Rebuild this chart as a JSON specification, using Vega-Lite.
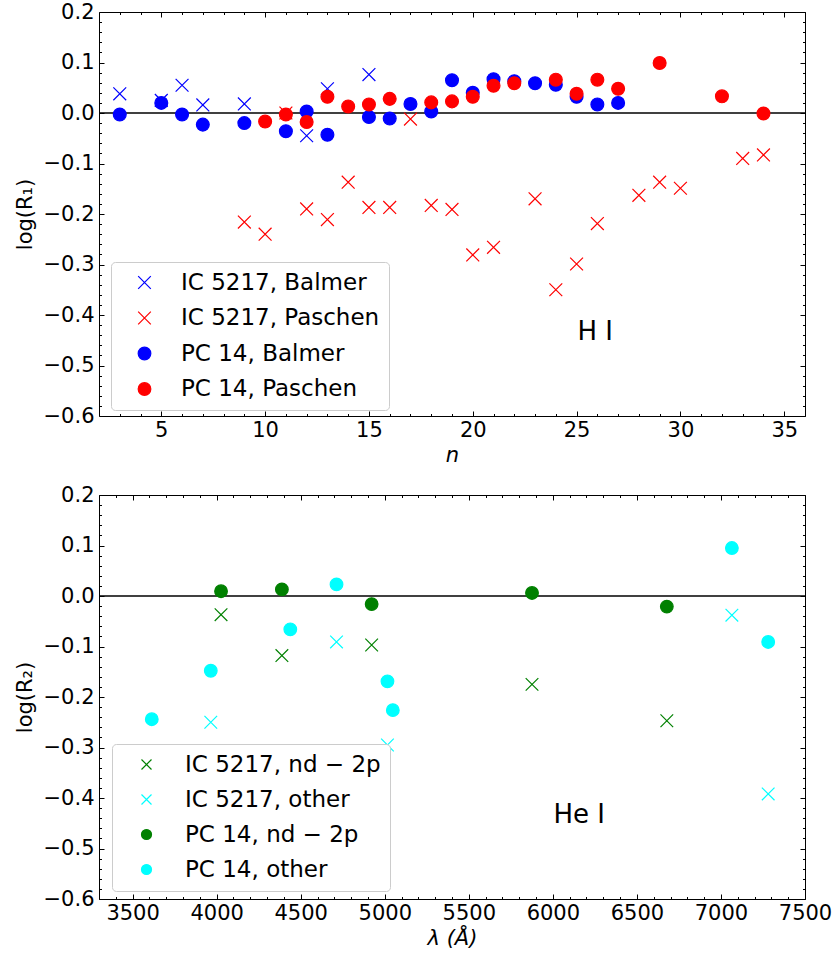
{
  "$schema": "https://vega.github.io/schema/vega-lite/v6.json",
  "padding": {"left": 13, "top": 0, "right": 5, "bottom": 5},
  "spacing": 17,
  "background": "white",
  "resolve": {
    "scale": {"shape": "independent", "stroke": "independent", "fill": "independent"},
    "legend": {"shape": "independent", "stroke": "independent", "fill": "independent"}
  },
  "config": {
    "font": "DejaVu Sans",
    "view": {"stroke": "#000000", "strokeWidth": 1},
    "axis": {
      "labelFont": "DejaVu Sans", "labelFontSize": 21, "labelColor": "#000000", "labelFlush": false,
      "titleFont": "DejaVu Sans", "titleFontSize": 21, "titleColor": "#000000", "titleFontWeight": "normal",
      "tickColor": "#000000", "tickWidth": 1, "domain": false, "grid": false
    },
    "legend": {
      "labelFont": "DejaVu Sans", "labelFontSize": 23, "labelColor": "#000000", "labelLimit": 400
    }
  },
  "datasets": {
    "h": [
      {"n": 3, "v": 0.038, "s": "IC 5217, Balmer"},
      {"n": 5, "v": 0.025, "s": "IC 5217, Balmer"},
      {"n": 6, "v": 0.055, "s": "IC 5217, Balmer"},
      {"n": 7, "v": 0.016, "s": "IC 5217, Balmer"},
      {"n": 9, "v": 0.018, "s": "IC 5217, Balmer"},
      {"n": 12, "v": -0.045, "s": "IC 5217, Balmer"},
      {"n": 13, "v": 0.048, "s": "IC 5217, Balmer"},
      {"n": 15, "v": 0.076, "s": "IC 5217, Balmer"},
      {"n": 9, "v": -0.216, "s": "IC 5217, Paschen"},
      {"n": 10, "v": -0.24, "s": "IC 5217, Paschen"},
      {"n": 11, "v": 0.0, "s": "IC 5217, Paschen"},
      {"n": 12, "v": -0.19, "s": "IC 5217, Paschen"},
      {"n": 13, "v": -0.211, "s": "IC 5217, Paschen"},
      {"n": 14, "v": -0.137, "s": "IC 5217, Paschen"},
      {"n": 15, "v": -0.187, "s": "IC 5217, Paschen"},
      {"n": 16, "v": -0.187, "s": "IC 5217, Paschen"},
      {"n": 17, "v": -0.012, "s": "IC 5217, Paschen"},
      {"n": 18, "v": -0.183, "s": "IC 5217, Paschen"},
      {"n": 19, "v": -0.191, "s": "IC 5217, Paschen"},
      {"n": 20, "v": -0.281, "s": "IC 5217, Paschen"},
      {"n": 21, "v": -0.266, "s": "IC 5217, Paschen"},
      {"n": 23, "v": -0.17, "s": "IC 5217, Paschen"},
      {"n": 24, "v": -0.35, "s": "IC 5217, Paschen"},
      {"n": 25, "v": -0.299, "s": "IC 5217, Paschen"},
      {"n": 26, "v": -0.219, "s": "IC 5217, Paschen"},
      {"n": 28, "v": -0.163, "s": "IC 5217, Paschen"},
      {"n": 29, "v": -0.137, "s": "IC 5217, Paschen"},
      {"n": 30, "v": -0.149, "s": "IC 5217, Paschen"},
      {"n": 33, "v": -0.09, "s": "IC 5217, Paschen"},
      {"n": 34, "v": -0.083, "s": "IC 5217, Paschen"},
      {"n": 3, "v": -0.003, "s": "PC 14, Balmer"},
      {"n": 5, "v": 0.02, "s": "PC 14, Balmer"},
      {"n": 6, "v": -0.003, "s": "PC 14, Balmer"},
      {"n": 7, "v": -0.023, "s": "PC 14, Balmer"},
      {"n": 9, "v": -0.02, "s": "PC 14, Balmer"},
      {"n": 11, "v": -0.036, "s": "PC 14, Balmer"},
      {"n": 12, "v": 0.003, "s": "PC 14, Balmer"},
      {"n": 13, "v": -0.043, "s": "PC 14, Balmer"},
      {"n": 15, "v": -0.008, "s": "PC 14, Balmer"},
      {"n": 16, "v": -0.011, "s": "PC 14, Balmer"},
      {"n": 17, "v": 0.018, "s": "PC 14, Balmer"},
      {"n": 18, "v": 0.003, "s": "PC 14, Balmer"},
      {"n": 19, "v": 0.065, "s": "PC 14, Balmer"},
      {"n": 20, "v": 0.04, "s": "PC 14, Balmer"},
      {"n": 21, "v": 0.067, "s": "PC 14, Balmer"},
      {"n": 22, "v": 0.063, "s": "PC 14, Balmer"},
      {"n": 23, "v": 0.059, "s": "PC 14, Balmer"},
      {"n": 24, "v": 0.056, "s": "PC 14, Balmer"},
      {"n": 25, "v": 0.032, "s": "PC 14, Balmer"},
      {"n": 26, "v": 0.017, "s": "PC 14, Balmer"},
      {"n": 27, "v": 0.02, "s": "PC 14, Balmer"},
      {"n": 10, "v": -0.017, "s": "PC 14, Paschen"},
      {"n": 11, "v": -0.003, "s": "PC 14, Paschen"},
      {"n": 12, "v": -0.018, "s": "PC 14, Paschen"},
      {"n": 13, "v": 0.032, "s": "PC 14, Paschen"},
      {"n": 14, "v": 0.013, "s": "PC 14, Paschen"},
      {"n": 15, "v": 0.017, "s": "PC 14, Paschen"},
      {"n": 16, "v": 0.028, "s": "PC 14, Paschen"},
      {"n": 18, "v": 0.021, "s": "PC 14, Paschen"},
      {"n": 19, "v": 0.023, "s": "PC 14, Paschen"},
      {"n": 20, "v": 0.032, "s": "PC 14, Paschen"},
      {"n": 21, "v": 0.054, "s": "PC 14, Paschen"},
      {"n": 22, "v": 0.059, "s": "PC 14, Paschen"},
      {"n": 24, "v": 0.066, "s": "PC 14, Paschen"},
      {"n": 25, "v": 0.038, "s": "PC 14, Paschen"},
      {"n": 26, "v": 0.066, "s": "PC 14, Paschen"},
      {"n": 27, "v": 0.048, "s": "PC 14, Paschen"},
      {"n": 29, "v": 0.099, "s": "PC 14, Paschen"},
      {"n": 32, "v": 0.033, "s": "PC 14, Paschen"},
      {"n": 34, "v": -0.001, "s": "PC 14, Paschen"}
    ],
    "he": [
      {"lam": 4026, "v": -0.037, "s": "IC 5217, nd − 2p"},
      {"lam": 4388, "v": -0.118, "s": "IC 5217, nd − 2p"},
      {"lam": 4922, "v": -0.097, "s": "IC 5217, nd − 2p"},
      {"lam": 5876, "v": -0.175, "s": "IC 5217, nd − 2p"},
      {"lam": 6678, "v": -0.247, "s": "IC 5217, nd − 2p"},
      {"lam": 3965, "v": -0.25, "s": "IC 5217, other"},
      {"lam": 4713, "v": -0.091, "s": "IC 5217, other"},
      {"lam": 5016, "v": -0.295, "s": "IC 5217, other"},
      {"lam": 7065, "v": -0.038, "s": "IC 5217, other"},
      {"lam": 7281, "v": -0.392, "s": "IC 5217, other"},
      {"lam": 4026, "v": 0.0095, "s": "PC 14, nd − 2p"},
      {"lam": 4388, "v": 0.013, "s": "PC 14, nd − 2p"},
      {"lam": 4922, "v": -0.016, "s": "PC 14, nd − 2p"},
      {"lam": 5876, "v": 0.006, "s": "PC 14, nd − 2p"},
      {"lam": 6678, "v": -0.021, "s": "PC 14, nd − 2p"},
      {"lam": 3614, "v": -0.244, "s": "PC 14, other"},
      {"lam": 3965, "v": -0.148, "s": "PC 14, other"},
      {"lam": 4438, "v": -0.066, "s": "PC 14, other"},
      {"lam": 4713, "v": 0.023, "s": "PC 14, other"},
      {"lam": 5016, "v": -0.169, "s": "PC 14, other"},
      {"lam": 5048, "v": -0.226, "s": "PC 14, other"},
      {"lam": 7065, "v": 0.095, "s": "PC 14, other"},
      {"lam": 7281, "v": -0.091, "s": "PC 14, other"}
    ]
  },
  "vconcat": [
    {
      "width": 706, "height": 404,
      "data": {"name": "h"},
      "resolve": {"axis": {"x": "independent", "y": "independent"}},
      "layer": [
        {
          "data": {"values": [{"z": 0}]},
          "mark": {"type": "rule", "color": "#000000", "strokeWidth": 1.5},
          "encoding": {"y": {"field": "z", "type": "quantitative", "scale": {"domain": [-0.6, 0.2], "nice": false, "zero": false}, "axis": null}}
        },
        {
          "mark": {"type": "point", "opacity": 0},
          "encoding": {
            "x": {"field": "n", "type": "quantitative", "scale": {"domain": [2, 36], "nice": false, "zero": false},
                  "axis": {"orient": "top", "values": [5,10,15,20,25,30,35], "labels": false, "tickSize": -5, "title": null}},
            "y": {"field": "v", "type": "quantitative", "scale": {"domain": [-0.6, 0.2], "nice": false, "zero": false},
                  "axis": {"orient": "right", "values": [-0.6,-0.5,-0.4,-0.3,-0.2,-0.1,0,0.1,0.2], "labels": false, "tickSize": -5, "title": null}}
          }
        },
        {
          "mark": {"type": "point", "opacity": 0},
          "encoding": {
            "x": {"field": "n", "type": "quantitative", "scale": {"domain": [2, 36], "nice": false, "zero": false},
                  "axis": {"orient": "bottom", "values": [3,4,6,7,8,9,11,12,13,14,16,17,18,19,21,22,23,24,26,27,28,29,31,32,33,34,36], "labels": false, "tickSize": -2.5, "title": null}},
            "y": {"field": "v", "type": "quantitative", "scale": {"domain": [-0.6, 0.2], "nice": false, "zero": false},
                  "axis": {"orient": "left", "values": [-0.58,-0.56,-0.54,-0.52,-0.48,-0.46,-0.44,-0.42,-0.38,-0.36,-0.34,-0.32,-0.28,-0.26,-0.24,-0.22,-0.18,-0.16,-0.14,-0.12,-0.08,-0.06,-0.04,-0.02,0.02,0.04,0.06,0.08,0.12,0.14,0.16,0.18], "labels": false, "tickSize": -2.5, "title": null}}
          }
        },
        {
          "mark": {"type": "point", "opacity": 0},
          "encoding": {
            "x": {"field": "n", "type": "quantitative", "scale": {"domain": [2, 36], "nice": false, "zero": false},
                  "axis": {"orient": "top", "values": [3,4,6,7,8,9,11,12,13,14,16,17,18,19,21,22,23,24,26,27,28,29,31,32,33,34,36], "labels": false, "tickSize": -2.5, "title": null}},
            "y": {"field": "v", "type": "quantitative", "scale": {"domain": [-0.6, 0.2], "nice": false, "zero": false},
                  "axis": {"orient": "right", "values": [-0.58,-0.56,-0.54,-0.52,-0.48,-0.46,-0.44,-0.42,-0.38,-0.36,-0.34,-0.32,-0.28,-0.26,-0.24,-0.22,-0.18,-0.16,-0.14,-0.12,-0.08,-0.06,-0.04,-0.02,0.02,0.04,0.06,0.08,0.12,0.14,0.16,0.18], "labels": false, "tickSize": -2.5, "title": null}}
          }
        },
        {
          "mark": {"type": "point", "opacity": 1, "strokeWidth": 1.2, "size": 165},
          "encoding": {
            "x": {"field": "n", "type": "quantitative", "scale": {"domain": [2, 36], "nice": false, "zero": false},
                  "axis": {"orient": "bottom", "values": [5,10,15,20,25,30,35], "format": "d", "tickSize": -5, "labelPadding": 8, "title": "n", "titleFontStyle": "italic", "titlePadding": 4}},
            "y": {"field": "v", "type": "quantitative", "scale": {"domain": [-0.6, 0.2], "nice": false, "zero": false},
                  "axis": {"orient": "left", "values": [-0.6,-0.5,-0.4,-0.3,-0.2,-0.1,0,0.1,0.2], "format": ".1f", "tickSize": -5, "labelPadding": 10, "title": "log(R₁)", "titlePadding": 8}},
            "shape": {"field": "s", "type": "nominal",
                      "scale": {"domain": ["IC 5217, Balmer", "IC 5217, Paschen", "PC 14, Balmer", "PC 14, Paschen"],
                                "range": ["M-1,-1L1,1M-1,1L1,-1", "M-1,-1L1,1M-1,1L1,-1", "circle", "circle"]},
                      "legend": {"orient": "none", "legendX": 12, "legendY": 250, "title": null, "padding": 9, "rowPadding": 11.5,
                                 "labelOffset": 25, "symbolOffset": 13, "strokeColor": "#cccccc", "cornerRadius": 4,
                                 "fillColor": "white", "symbolSize": 160, "symbolStrokeWidth": 1.2}},
            "stroke": {"field": "s", "type": "nominal",
                       "scale": {"domain": ["IC 5217, Balmer", "IC 5217, Paschen", "PC 14, Balmer", "PC 14, Paschen"],
                                 "range": ["#0000ff", "#ff0000", "#0000ff", "#ff0000"]}},
            "fill": {"field": "s", "type": "nominal",
                     "scale": {"domain": ["IC 5217, Balmer", "IC 5217, Paschen", "PC 14, Balmer", "PC 14, Paschen"],
                               "range": ["transparent", "transparent", "#0000ff", "#ff0000"]}}
          }
        },
        {
          "data": {"values": [{"n": 25.9, "v": -0.434, "t": "H I"}]},
          "mark": {"type": "text", "fontSize": 26, "font": "DejaVu Sans", "color": "#000000", "align": "center", "baseline": "middle"},
          "encoding": {
            "x": {"field": "n", "type": "quantitative", "scale": {"domain": [2, 36], "nice": false, "zero": false}, "axis": null},
            "y": {"field": "v", "type": "quantitative", "scale": {"domain": [-0.6, 0.2], "nice": false, "zero": false}, "axis": null},
            "text": {"field": "t"}
          }
        }
      ]
    },
    {
      "width": 706, "height": 404,
      "data": {"name": "he"},
      "resolve": {"axis": {"x": "independent", "y": "independent"}},
      "layer": [
        {
          "data": {"values": [{"z": 0}]},
          "mark": {"type": "rule", "color": "#000000", "strokeWidth": 1.5},
          "encoding": {"y": {"field": "z", "type": "quantitative", "scale": {"domain": [-0.6, 0.2], "nice": false, "zero": false}, "axis": null}}
        },
        {
          "mark": {"type": "point", "opacity": 0},
          "encoding": {
            "x": {"field": "lam", "type": "quantitative", "scale": {"domain": [3300, 7500], "nice": false, "zero": false},
                  "axis": {"orient": "top", "values": [3500,4000,4500,5000,5500,6000,6500,7000,7500], "labels": false, "tickSize": -5, "title": null}},
            "y": {"field": "v", "type": "quantitative", "scale": {"domain": [-0.6, 0.2], "nice": false, "zero": false},
                  "axis": {"orient": "right", "values": [-0.6,-0.5,-0.4,-0.3,-0.2,-0.1,0,0.1,0.2], "labels": false, "tickSize": -5, "title": null}}
          }
        },
        {
          "mark": {"type": "point", "opacity": 0},
          "encoding": {
            "x": {"field": "lam", "type": "quantitative", "scale": {"domain": [3300, 7500], "nice": false, "zero": false},
                  "axis": {"orient": "bottom", "values": [3300,3400,3600,3700,3800,3900,4100,4200,4300,4400,4600,4700,4800,4900,5100,5200,5300,5400,5600,5700,5800,5900,6100,6200,6300,6400,6600,6700,6800,6900,7100,7200,7300,7400], "labels": false, "tickSize": -2.5, "title": null}},
            "y": {"field": "v", "type": "quantitative", "scale": {"domain": [-0.6, 0.2], "nice": false, "zero": false},
                  "axis": {"orient": "left", "values": [-0.58,-0.56,-0.54,-0.52,-0.48,-0.46,-0.44,-0.42,-0.38,-0.36,-0.34,-0.32,-0.28,-0.26,-0.24,-0.22,-0.18,-0.16,-0.14,-0.12,-0.08,-0.06,-0.04,-0.02,0.02,0.04,0.06,0.08,0.12,0.14,0.16,0.18], "labels": false, "tickSize": -2.5, "title": null}}
          }
        },
        {
          "mark": {"type": "point", "opacity": 0},
          "encoding": {
            "x": {"field": "lam", "type": "quantitative", "scale": {"domain": [3300, 7500], "nice": false, "zero": false},
                  "axis": {"orient": "top", "values": [3300,3400,3600,3700,3800,3900,4100,4200,4300,4400,4600,4700,4800,4900,5100,5200,5300,5400,5600,5700,5800,5900,6100,6200,6300,6400,6600,6700,6800,6900,7100,7200,7300,7400], "labels": false, "tickSize": -2.5, "title": null}},
            "y": {"field": "v", "type": "quantitative", "scale": {"domain": [-0.6, 0.2], "nice": false, "zero": false},
                  "axis": {"orient": "right", "values": [-0.58,-0.56,-0.54,-0.52,-0.48,-0.46,-0.44,-0.42,-0.38,-0.36,-0.34,-0.32,-0.28,-0.26,-0.24,-0.22,-0.18,-0.16,-0.14,-0.12,-0.08,-0.06,-0.04,-0.02,0.02,0.04,0.06,0.08,0.12,0.14,0.16,0.18], "labels": false, "tickSize": -2.5, "title": null}}
          }
        },
        {
          "mark": {"type": "point", "opacity": 1, "strokeWidth": 1.2, "size": 160},
          "encoding": {
            "x": {"field": "lam", "type": "quantitative", "scale": {"domain": [3300, 7500], "nice": false, "zero": false},
                  "axis": {"orient": "bottom", "values": [3500,4000,4500,5000,5500,6000,6500,7000,7500], "format": "d", "tickSize": -5, "labelPadding": 8, "title": "λ (Å)", "titleFontStyle": "italic", "titlePadding": 4}},
            "y": {"field": "v", "type": "quantitative", "scale": {"domain": [-0.6, 0.2], "nice": false, "zero": false},
                  "axis": {"orient": "left", "values": [-0.6,-0.5,-0.4,-0.3,-0.2,-0.1,0,0.1,0.2], "format": ".1f", "tickSize": -5, "labelPadding": 10, "title": "log(R₂)", "titlePadding": 8}},
            "shape": {"field": "s", "type": "nominal",
                      "scale": {"domain": ["IC 5217, nd − 2p", "IC 5217, other", "PC 14, nd − 2p", "PC 14, other"],
                                "range": ["M-1,-1L1,1M-1,1L1,-1", "M-1,-1L1,1M-1,1L1,-1", "circle", "circle"]},
                      "legend": {"orient": "none", "legendX": 13, "legendY": 249, "title": null, "padding": 9, "rowPadding": 11,
                                 "labelOffset": 27, "symbolOffset": 14, "strokeColor": "#cccccc", "cornerRadius": 4,
                                 "fillColor": "white", "symbolSize": 100, "symbolStrokeWidth": 1.2}},
            "stroke": {"field": "s", "type": "nominal",
                       "scale": {"domain": ["IC 5217, nd − 2p", "IC 5217, other", "PC 14, nd − 2p", "PC 14, other"],
                                 "range": ["#008000", "#00ffff", "#008000", "#00ffff"]}},
            "fill": {"field": "s", "type": "nominal",
                     "scale": {"domain": ["IC 5217, nd − 2p", "IC 5217, other", "PC 14, nd − 2p", "PC 14, other"],
                               "range": ["transparent", "transparent", "#008000", "#00ffff"]}}
          }
        },
        {
          "data": {"values": [{"lam": 6157, "v": -0.433, "t": "He I"}]},
          "mark": {"type": "text", "fontSize": 26, "font": "DejaVu Sans", "color": "#000000", "align": "center", "baseline": "middle"},
          "encoding": {
            "x": {"field": "lam", "type": "quantitative", "scale": {"domain": [3300, 7500], "nice": false, "zero": false}, "axis": null},
            "y": {"field": "v", "type": "quantitative", "scale": {"domain": [-0.6, 0.2], "nice": false, "zero": false}, "axis": null},
            "text": {"field": "t"}
          }
        }
      ]
    }
  ]
}
